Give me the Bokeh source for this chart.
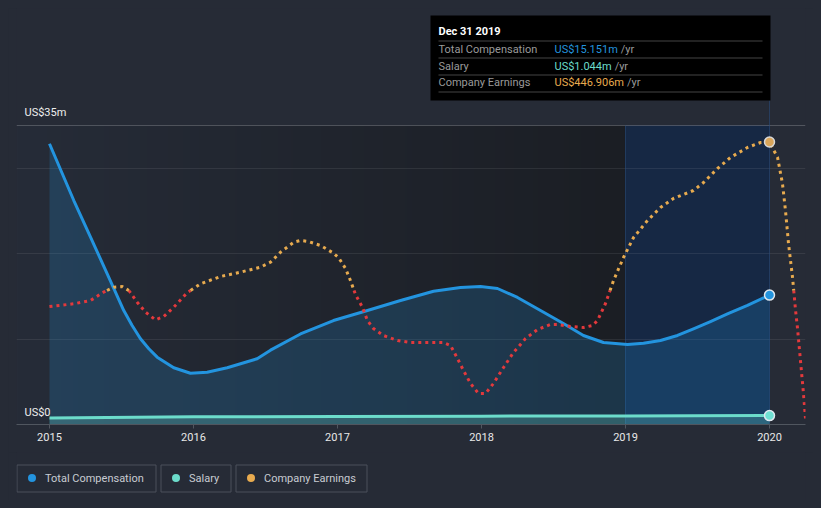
import numpy as np
from bokeh.plotting import figure
from bokeh.layouts import column
from bokeh.models import Range1d, FixedTicker, Span
from bokeh.embed import file_html
from bokeh.resources import INLINE
from bokeh.core.properties import value
from jinja2 import Template

# ---------------- data ----------------
years = [2015, 2016, 2017, 2018, 2019, 2020]
year_labels = ["2015", "2016", "2017", "2018", "2019", "2020"]

comp_t = [2015.0, 2015.169, 2015.285, 2015.401, 2015.516, 2015.574, 2015.632, 2015.690,
          2015.748, 2015.863, 2015.979, 2016.095, 2016.234, 2016.442, 2016.535, 2016.743,
          2016.972, 2017.208, 2017.438, 2017.667, 2017.854, 2017.993, 2018.111, 2018.25,
          2018.41, 2018.569, 2018.708, 2018.847, 2019.014, 2019.125, 2019.243, 2019.361,
          2019.472, 2019.590, 2019.708, 2019.847, 2020.0]
comp_v = [32.86, 26.22, 21.93, 17.64, 13.34, 11.59, 10.03, 8.86,
          7.88, 6.64, 6.00, 6.12, 6.64, 7.70, 8.70, 10.6,
          12.17, 13.34, 14.51, 15.6, 16.04, 16.15, 15.92, 14.87,
          13.34, 11.82, 10.42, 9.60, 9.36, 9.52, 9.83, 10.42,
          11.20, 12.05, 12.95, 13.95, 15.151]

salary_t = [2015.0, 2016.0, 2017.0, 2018.0, 2019.0, 2020.0]
salary_v = [0.75, 0.90, 0.95, 0.98, 1.00, 1.044]

earn_t = [2015.0, 2015.169, 2015.285, 2015.375, 2015.447, 2015.505, 2015.551, 2015.609,
          2015.667, 2015.736, 2015.794, 2015.863, 2015.956, 2016.049, 2016.188, 2016.326,
          2016.465, 2016.535, 2016.604, 2016.697, 2016.743, 2016.799, 2016.882, 2016.965,
          2017.007, 2017.056, 2017.09, 2017.125, 2017.174, 2017.208, 2017.25, 2017.319,
          2017.417, 2017.507, 2017.646, 2017.736, 2017.785, 2017.833, 2017.875, 2017.924,
          2017.979, 2018.028, 2018.083, 2018.153, 2018.222, 2018.306, 2018.389, 2018.479,
          2018.528, 2018.618, 2018.708, 2018.771, 2018.806, 2018.861, 2018.917, 2018.986,
          2019.056, 2019.153, 2019.243, 2019.333, 2019.472, 2019.542, 2019.639, 2019.729,
          2019.847, 2019.938, 2020.0, 2020.056, 2020.09, 2020.111, 2020.132, 2020.16,
          2020.181, 2020.194, 2020.215, 2020.236, 2020.25]
earn_v = [-48.2, -40.0, -30.1, -5.1, 9.9, 12.0, 0.0, -35.2,
          -65.3, -88.2, -78.2, -50.3, -6.9, 20.2, 42.1, 55.1,
          70.1, 85.2, 115.3, 145.4, 150.5, 147.4, 135.4, 114.4,
          99.3, 66.2, 30.1, -12.0, -51.2, -90.3, -114.4, -135.4,
          -150.5, -156.5, -156.5, -156.5, -165.5, -204.6, -240.8, -279.9,
          -310.0, -310.0, -279.9, -231.7, -186.6, -144.5, -117.4, -102.3,
          -102.3, -108.3, -111.4, -105.3, -90.3, -39.1, 30.1, 99.3,
          159.5, 210.7, 249.8, 276.9, 301.0, 325.0, 367.2, 400.3,
          430.4, 445.4, 446.906, 400.3, 322.0, 240.8, 141.4, 39.1,
          -60.2, -111.4, -210.7, -310.0, -385.2]

tooltip_date = "Dec 31 2019"
series_names = ["Total Compensation", "Salary", "Company Earnings"]

# ---------------- style ----------------
BG = "#262b36"
BLUE = "#2394df"
TEAL = "#6cdccb"
ORANGE = "#e8ab4f"
RED = "#e3393c"
FONT = "Roboto"

# layout geometry (page pixels)
FL, FR, FT, FB = 16, 805, 8, 424          # frame edges
X0, X1 = 2014.771, 2020.25
Y35_PX = 125
Y1 = 35 * (FB - FT) / (FB - Y35_PX)
E_ZERO_PX = 290.0
E_PER_PX = 446.906 / (E_ZERO_PX - 141.5)


def px_x(px):
    return X0 + (px - FL) / (FR - FL) * (X1 - X0)


def px_y(py):
    return (FB - py) / (FB - FT) * Y1


p = figure(width=805, height=444, output_backend="svg", toolbar_location=None,
           x_range=Range1d(X0, X1), y_range=Range1d(0, Y1), y_axis_location=None,
           min_border_left=8, min_border_right=8, min_border_top=0, min_border_bottom=28)
p.extra_y_ranges = {"earn": Range1d((E_ZERO_PX - FB) * E_PER_PX, (E_ZERO_PX - FT) * E_PER_PX)}
p.background_fill_color = BG
p.border_fill_color = BG
p.outline_line_color = None
p.xgrid.visible = False
p.ygrid.ticker = FixedTicker(ticks=[10, 20, 30])
p.ygrid.grid_line_color = "white"
p.ygrid.grid_line_alpha = 0.08

ax = p.xaxis[0]
ax.ticker = FixedTicker(ticks=years)
ax.major_label_overrides = {y: l for y, l in zip(years, year_labels)}
ax.major_label_text_font = FONT
ax.major_label_text_font_size = "11px"
ax.major_label_text_color = "#e8e8e8"
ax.axis_line_color = "#50565f"
ax.major_tick_line_color = "#50565f"
ax.major_tick_out = 4
ax.major_tick_in = 0
ax.minor_tick_out = 0
ax.minor_tick_in = 0
ax.major_label_standoff = 4

# background gradient of the plot area
N = 256
g = np.linspace(0, 1, N)[:, None]
c0 = np.array([38, 44, 56])
c1 = np.array([27, 30, 36])
cols = (c0 * (1 - g) + c1 * g).astype(np.uint8)
img = np.zeros((1, N), dtype=np.uint32)
view = img.view(dtype=np.uint8).reshape((1, N, 4))
view[0, :, 0] = cols[:, 0]
view[0, :, 1] = cols[:, 1]
view[0, :, 2] = cols[:, 2]
view[0, :, 3] = 255
p.image_rgba(image=[img], x=X0, y=0, dw=years[-2] - X0, dh=35, level="image")

# highlighted last period
p.quad(left=[years[-2]], right=[years[-1]], bottom=[0], top=[35],
       fill_color="#162844", line_color=None, level="image")
p.segment(x0=[years[-2], years[-1]], x1=[years[-2], years[-1]], y0=[0, 0],
          y1=[35, px_y(100)], line_color="#2a4f80", line_alpha=0.55, line_width=1)

p.add_layout(Span(location=35, dimension="width", line_color="white",
                  line_alpha=0.2, line_width=1, level="underlay"))

# areas
p.varea(x=comp_t, y1=0, y2=comp_v, fill_color=BLUE, fill_alpha=0.2)
p.varea(x=salary_t, y1=0, y2=salary_v, fill_color=TEAL, fill_alpha=0.25)

# lines
p.line(comp_t, comp_v, line_color=BLUE, line_width=3, line_join="round")
p.line(salary_t, salary_v, line_color=TEAL, line_width=3)


def split_runs(t, v):
    runs = {True: [], False: []}
    cx, cy = [t[0]], [v[0]]
    cpos = v[0] >= 0
    for i in range(1, len(t)):
        pos = v[i] >= 0
        if pos != cpos:
            f = v[i - 1] / (v[i - 1] - v[i])
            xc = t[i - 1] + f * (t[i] - t[i - 1])
            cx.append(xc)
            cy.append(0.0)
            runs[cpos].append((cx, cy))
            cx, cy = [xc, t[i]], [0.0, v[i]]
            cpos = pos
        else:
            cx.append(t[i])
            cy.append(v[i])
    runs[cpos].append((cx, cy))
    return runs


runs = split_runs(earn_t, earn_v)
p.multi_line(xs=[r[0] for r in runs[False]], ys=[r[1] for r in runs[False]],
             y_range_name="earn", line_color=RED, line_width=3, line_dash="3 4")
p.multi_line(xs=[r[0] for r in runs[True]], ys=[r[1] for r in runs[True]],
             y_range_name="earn", line_color=ORANGE, line_width=3, line_dash="3 4")

# end markers
p.scatter([comp_t[-1]], [comp_v[-1]], size=10, fill_color=BLUE, line_color="#dfe8f0", line_width=1.5)
p.scatter([salary_t[-1]], [salary_v[-1]], size=10, fill_color="#6fe0d3", line_color="#dfe8f0", line_width=1.5)
p.scatter([2020.0], [446.906], y_range_name="earn", size=10, fill_color="#d9a55a",
          line_color="#d8d8d8", line_width=1.5)

# y labels
p.text(x=[px_x(24), px_x(24)], y=[px_y(112), px_y(412)], text=["US$35m", "US$0"],
       text_font=value(FONT), text_font_size="11px", text_color="#eeeeee",
       text_baseline="middle", text_align="left")

# tooltip box
p.quad(left=[px_x(430)], right=[px_x(770)], top=[px_y(15)], bottom=[px_y(100)],
       fill_color="black", line_color=None)
sep_y = [px_y(v) for v in (40.5, 57.5, 74.5, 91.5)]
p.segment(x0=[px_x(438)] * 4, x1=[px_x(762)] * 4, y0=sep_y, y1=sep_y,
          line_color="#454545", line_width=1)
p.text(x=[px_x(438)], y=[px_y(31)], text=[tooltip_date], text_font=value(FONT),
       text_font_size="11px", text_font_style="bold", text_color="white",
       text_baseline="middle")
row_y = [px_y(v) for v in (48.5, 65.5, 82.0)]
p.text(x=[px_x(438)] * 3, y=row_y, text=series_names, text_font=value(FONT),
       text_font_size="11px", text_color="#9a9a9a", text_baseline="middle")
vals = ["US$%.3fm" % comp_v[-1], "US$%.3fm" % salary_v[-1], "US$%.3fm" % earn_v[earn_t.index(2020.0)]]
vcols = [BLUE, TEAL, ORANGE]
adv = {"U": 0.654, "S": 0.593, "$": 0.5615, ".": 0.263, "m": 0.876}


def width_px(s, size=11):
    return sum(adv.get(ch, 0.5615) for ch in s) * size


p.text(x=[px_x(554)] * 3, y=row_y, text=vals, text_font=value(FONT),
       text_font_size="11px", text_color=vcols, text_baseline="middle")
p.text(x=[px_x(554 + width_px(s) + 3) for s in vals], y=row_y, text=["/yr"] * 3,
       text_font=value(FONT), text_font_size="11px", text_color="#9a9a9a",
       text_baseline="middle")

# legend figure (page pixel coordinates; frame aligned with the main frame)
lg = figure(width=805, height=48, output_backend="svg", toolbar_location=None,
            x_range=Range1d(FL, FR), y_range=Range1d(500, 452),
            x_axis_location=None, y_axis_location=None,
            min_border_left=8, min_border_right=8, min_border_top=0, min_border_bottom=0)
lg.background_fill_color = BG
lg.border_fill_color = BG
lg.outline_line_color = None
lg.grid.visible = False
box_l = [16.5, 160.5, 235.5]
box_r = [155.5, 230.5, 366.5]
lg.quad(left=box_l, right=box_r, top=[464.5] * 3, bottom=[491.5] * 3,
        fill_color=None, line_color="#4a505b", line_width=1)
lg.scatter([b + 15 for b in box_l], [477.5] * 3, size=8,
           fill_color=[BLUE, TEAL, ORANGE], line_color=None)
lg.text(x=[b + 28 for b in box_l], y=[477.5] * 3, text=series_names,
        text_font=value(FONT), text_font_size="11px", text_color="#c8ccd2",
        text_baseline="middle")

layout = column(p, lg, spacing=0)

template = Template("""{% extends base %}
{% block preamble %}<style>html, body { background-color: #262b36; } body { padding: 8px !important; box-sizing: border-box; }</style>{% endblock %}""")

open("out.html", "w").write(file_html(layout, INLINE, title="chart", template=template))
